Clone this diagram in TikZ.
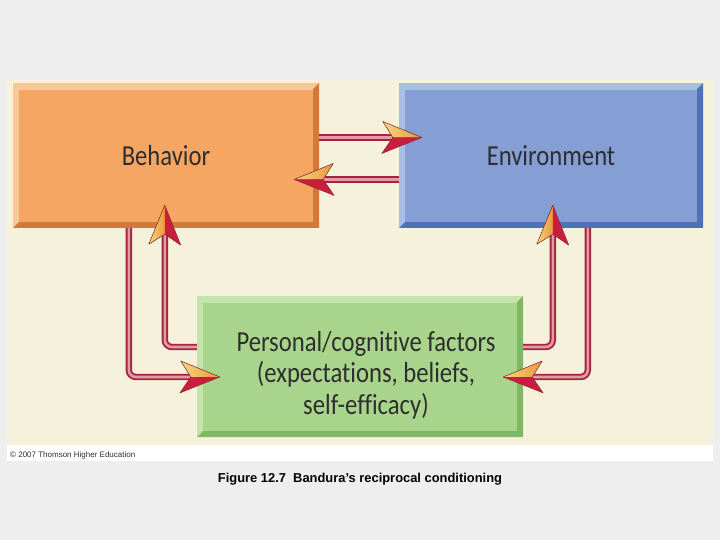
\documentclass[tikz,border=0pt]{standalone}
\usepackage{fontspec}
\setmainfont{Liberation Sans}
\newfontfamily\boxfont[FakeStretch=0.85,Ligatures=NoCommon]{Carlito}
\definecolor{bgc}{HTML}{EEEEEE}
\definecolor{cream}{HTML}{F5F1DA}
\definecolor{orface}{HTML}{F4A662}
\definecolor{orlight}{HTML}{F9C898}
\definecolor{ordark}{HTML}{D4793A}
\definecolor{blface}{HTML}{859FD5}
\definecolor{bllight}{HTML}{A9BEE4}
\definecolor{bldark}{HTML}{4E72BA}
\definecolor{grface}{HTML}{A9D48C}
\definecolor{grlight}{HTML}{C4E4AC}
\definecolor{grdark}{HTML}{7FB865}
\definecolor{txt}{HTML}{2E2E2E}
\definecolor{lnred}{HTML}{A3263E}
\definecolor{lnpink}{HTML}{E49AA6}
\definecolor{hdred}{HTML}{C8203C}
\definecolor{hdgold}{HTML}{F6D67E}
\definecolor{hdorange}{HTML}{E9973E}
\tikzset{
  bevelbox/.style n args={3}{rectangle, inner sep=0pt, fill=#2, text=txt,
    font=\boxfont\fontsize{29}{31.5}\selectfont, align=center,
    path picture={
      \fill[#3] (path picture bounding box.north east) -- (path picture bounding box.south east)
        -- (path picture bounding box.south west) -- ([shift={(6pt,6pt)}]path picture bounding box.south west)
        -- ([shift={(-6pt,6pt)}]path picture bounding box.south east)
        -- ([shift={(-6pt,-6pt)}]path picture bounding box.north east) -- cycle;
      \fill[#1] ([shift={(6pt,6pt)}]path picture bounding box.south west)
        rectangle ([shift={(-6pt,-7pt)}]path picture bounding box.north east);
    }},
  boxtext/.style={text=txt, font=\boxfont\fontsize{29}{31.5}\selectfont, align=center, inner sep=0pt},
  conn/.style={draw=lnred, line width=1.9pt, double=lnpink, double distance=2.6pt, rounded corners=7pt},
  ahead/.pic={
    \fill[left color=hdgold, right color=hdorange] (0,0) -- (-39,-16) -- (-29,0) -- cycle;
    \fill[hdred] (0,0) -- (-29,0) -- (-40,16) -- cycle;
    \draw[lnred!80!black, line width=0.4pt, line join=round] (0,0) -- (-39,-16) -- (-29,0) -- (-40,16) -- cycle;
  }
}
\begin{document}
\begin{tikzpicture}[x=1pt,y=-1pt]
\useasboundingbox (0,0) rectangle (720,540);
\fill[bgc] (0,0) rectangle (720,540);
\fill[white] (7,445) rectangle (713,461);
\fill[cream] (7,79) rectangle (713,445);

\node[bevelbox={orface}{orlight}{ordark}, minimum width=306pt, minimum height=145pt] (beh) at (166,155.5) {Behavior};
\node[bevelbox={blface}{bllight}{bldark}, minimum width=304pt, minimum height=145pt] (env) at (551,155.5) {Environment};
\node[bevelbox={grface}{grlight}{grdark}, minimum width=326pt, minimum height=141pt] (pers) at (360,366.5) {};
\node[boxtext] (perstxt) at (366,375) {Personal/cognitive factors\\(expectations, beliefs,\\self-efficacy)};

% Behavior <-> Environment
\draw[conn] ([yshift=18pt]beh.east) -- ([yshift=18pt]env.west);
\pic at ([shift={(23pt,18pt)}]env.west) {ahead};
\draw[conn] ([yshift=-24pt]env.west) -- ([yshift=-24pt]beh.east);
\pic[xscale=-1] at ([shift={(-25pt,-24pt)}]beh.east) {ahead};

% Behavior <-> Personal
\draw[conn] ([xshift=116pt]beh.south west) |- ([yshift=-10.5pt]pers.west);
\pic at ([shift={(23pt,-10.5pt)}]pers.west) {ahead};
\draw[conn] ([yshift=19.5pt]pers.west) -| ([xshift=152pt]beh.south west);
\pic[rotate=90] at ([shift={(152pt,23pt)}]beh.south west) {ahead};

% Environment <-> Personal
\draw[conn] ([yshift=19.5pt]pers.east) -| ([xshift=154pt]env.south west);
\pic[rotate=90] at ([shift={(154pt,23pt)}]env.south west) {ahead};
\draw[conn] ([xshift=189pt]env.south west) |- ([yshift=-10.5pt]pers.east);
\pic[xscale=-1] at ([shift={(-20pt,-10.5pt)}]pers.east) {ahead};

\node[font=\fontsize{8}{9}\selectfont, text=txt, anchor=west, inner sep=0pt] (copy) at (10,455) {© 2007 Thomson Higher Education};
\node[font=\bfseries\fontsize{12.9}{14}\selectfont, inner sep=0pt] (cap) at (360,479) {Figure 12.7\ \ Bandura’s reciprocal conditioning};
\end{tikzpicture}
\end{document}
